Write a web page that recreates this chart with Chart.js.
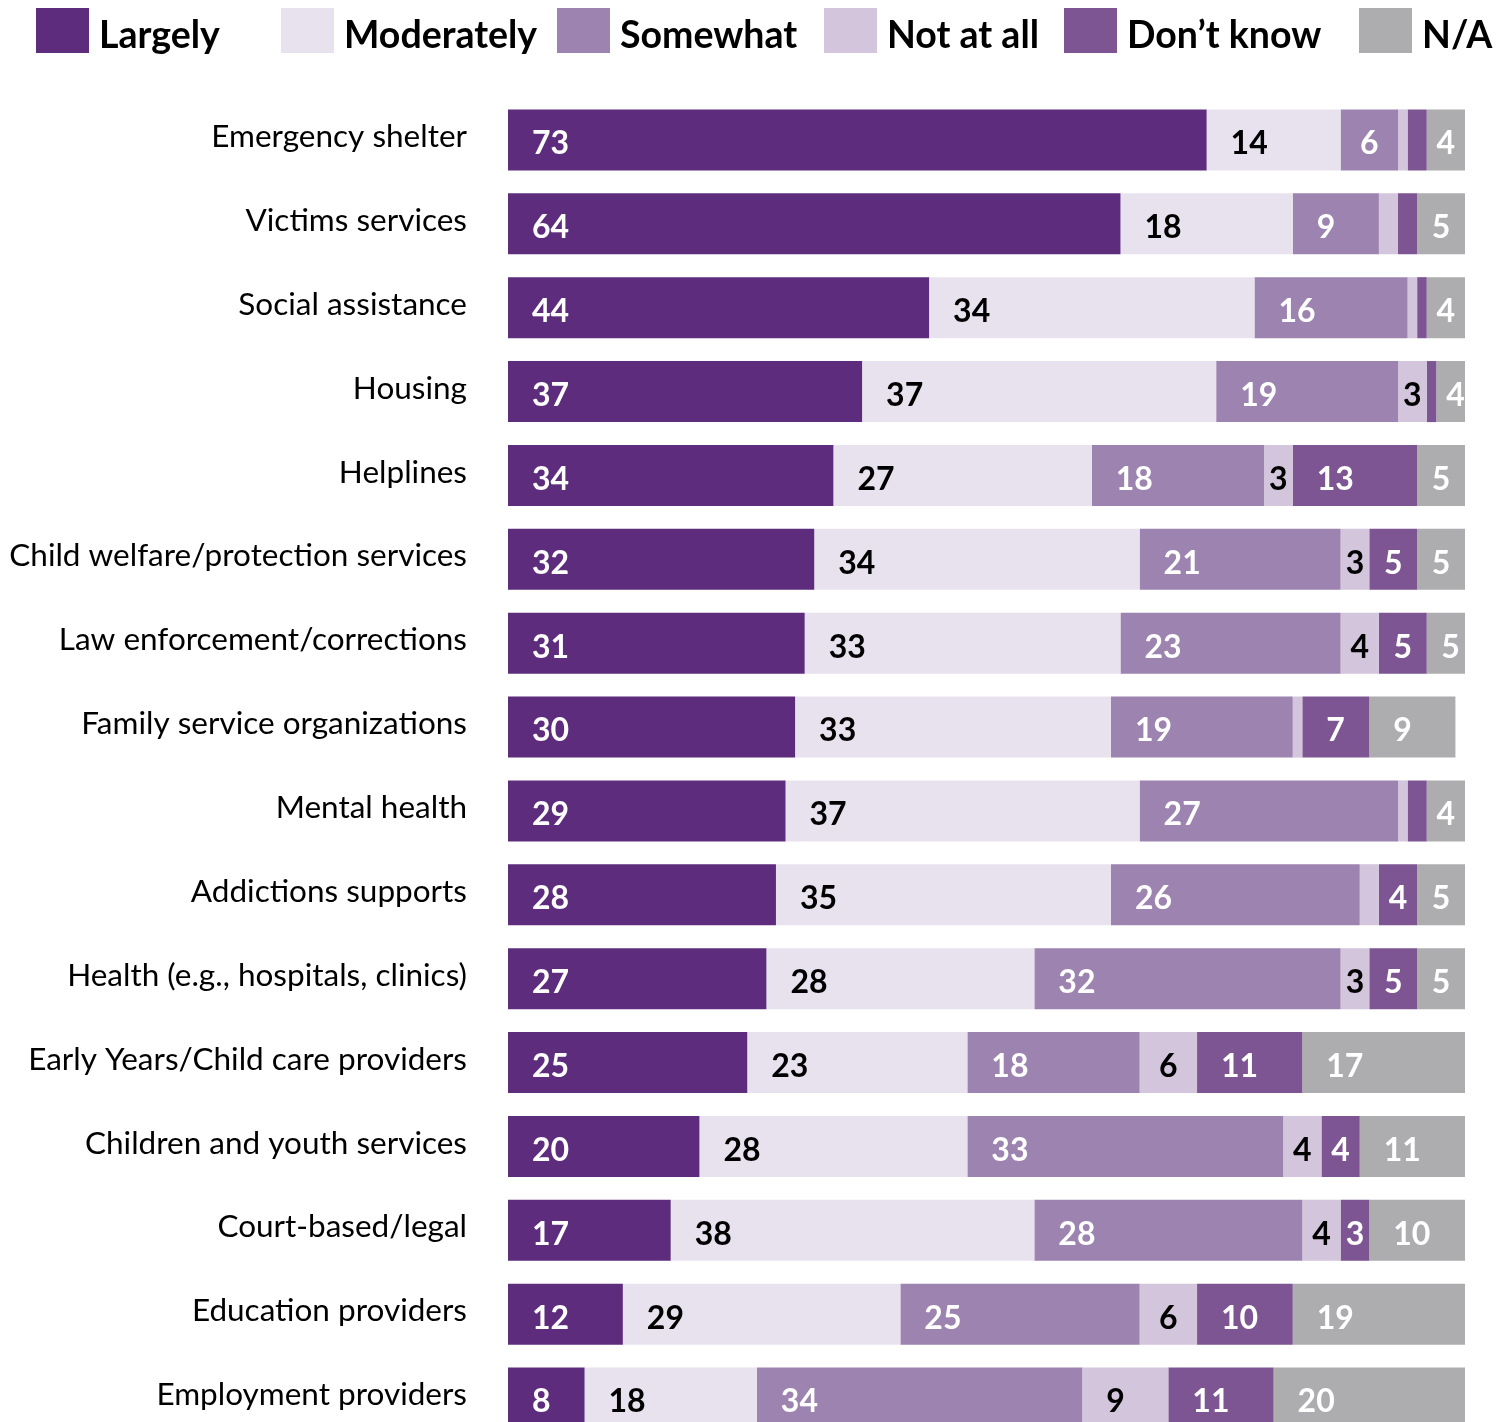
<!DOCTYPE html>
<html lang="en">
<head>
<meta charset="UTF-8">
<title>Service response by sector</title>
<script src="https://cdn.jsdelivr.net/npm/chart.js"></script>
<style>
body { margin: 0; background: #fff; }
#wrap { width: 1507px; height: 1422px; overflow: hidden; }
#box { position: relative; width: 1507px; height: 1440px; }
</style>
</head>
<body>
<div id="wrap"><div id="box"><canvas id="chart"></canvas></div></div>
<script>
const services = [
  'Emergency shelter', 'Victims services', 'Social assistance', 'Housing', 'Helplines',
  'Child welfare/protection services', 'Law enforcement/corrections', 'Family service organizations',
  'Mental health', 'Addictions supports', 'Health (e.g., hospitals, clinics)',
  'Early Years/Child care providers', 'Children and youth services', 'Court-based/legal',
  'Education providers', 'Employment providers'
];
const largely       = [73, 64, 44, 37, 34, 32, 31, 30, 29, 28, 27, 25, 20, 17, 12, 8];
const moderately    = [14, 18, 34, 37, 27, 34, 33, 33, 37, 35, 28, 23, 28, 38, 29, 18];
const somewhat      = [6, 9, 16, 19, 18, 21, 23, 19, 27, 26, 32, 18, 33, 28, 25, 34];
const notAtAll      = [1, 2, 1, 3, 3, 3, 4, 1, 1, 2, 3, 6, 4, 4, 6, 9];
const dontKnow      = [2, 2, 1, 1, 13, 5, 5, 7, 2, 4, 5, 11, 4, 3, 10, 11];
const notApplicable = [4, 5, 4, 4, 5, 5, 5, 9, 4, 5, 5, 17, 11, 10, 19, 20];

const FONT = 'Lato';
const legendX = [36, 281, 557, 824, 1064, 1359];

function series(label, data, color, textColor) {
  return { label, data, backgroundColor: color, labelColor: textColor };
}

// numbers inside the segments; tiny ones (under 3) stay blank
const valueLabels = {
  id: 'valueLabels',
  afterDatasetsDraw(chart) {
    const ctx = chart.ctx;
    const area = chart.chartArea;
    ctx.save();
    ctx.beginPath();
    ctx.rect(area.left, area.top, area.right - area.left, area.bottom - area.top);
    ctx.clip();
    ctx.font = 'bold 32px ' + FONT;
    ctx.textBaseline = 'middle';
    ctx.textAlign = 'left';
    chart.data.datasets.forEach((ds, i) => {
      chart.getDatasetMeta(i).data.forEach((bar, j) => {
        const v = ds.data[j];
        if (v < 3) return;
        const p = bar.getProps(['x', 'y', 'base'], true);
        const start = Math.min(p.x, p.base);
        const w = Math.abs(p.x - p.base);
        const txt = String(v);
        const tw = ctx.measureText(txt).width;
        const off = Math.min(24, (w - tw) / 2);
        ctx.fillStyle = ds.labelColor;
        ctx.fillText(txt, start + off, p.y + 4);
      });
    });
    ctx.restore();
  }
};

// legend row across the top
const topLegend = {
  id: 'topLegend',
  afterDraw(chart) {
    const ctx = chart.ctx;
    ctx.save();
    ctx.font = 'bold 37.5px ' + FONT;
    ctx.textBaseline = 'middle';
    chart.data.datasets.forEach((ds, i) => {
      ctx.fillStyle = ds.backgroundColor;
      ctx.fillRect(legendX[i], 8, 53, 45);
      ctx.fillStyle = '#000';
      ctx.fillText(ds.label, legendX[i] + 63, 36);
    });
    ctx.restore();
  }
};

new Chart(document.getElementById('chart'), {
  type: 'bar',
  data: {
    labels: services,
    datasets: [
      series('Largely', largely, '#5d2c7d', '#fff'),
      series('Moderately', moderately, '#e8e2ee', '#000'),
      series('Somewhat', somewhat, '#9d83b0', '#fff'),
      series('Not at all', notAtAll, '#d3c5dc', '#000'),
      series('Don\u2019t know', dontKnow, '#7d5592', '#fff'),
      series('N/A', notApplicable, '#adadb0', '#fff')
    ]
  },
  options: {
    indexAxis: 'y',
    responsive: true,
    maintainAspectRatio: false,
    animation: false,
    events: [],
    layout: { padding: { top: 98, right: 42, left: 0, bottom: 0 } },
    datasets: { bar: { categoryPercentage: 1, barPercentage: 0.728, borderWidth: 0 } },
    scales: {
      x: { stacked: true, min: 0, max: 100, display: false },
      y: {
        stacked: true,
        grid: { display: false },
        border: { display: false },
        ticks: { color: '#000', font: { family: FONT, size: 31.5 }, padding: 33, labelOffset: -3 },
        afterFit(scale) {
          scale.width = 508;
          scale.paddingTop = 0;
          scale.paddingBottom = 0;
        }
      }
    },
    plugins: { legend: { display: false }, tooltip: { enabled: false } }
  },
  plugins: [valueLabels, topLegend]
});
</script>
</body>
</html>
